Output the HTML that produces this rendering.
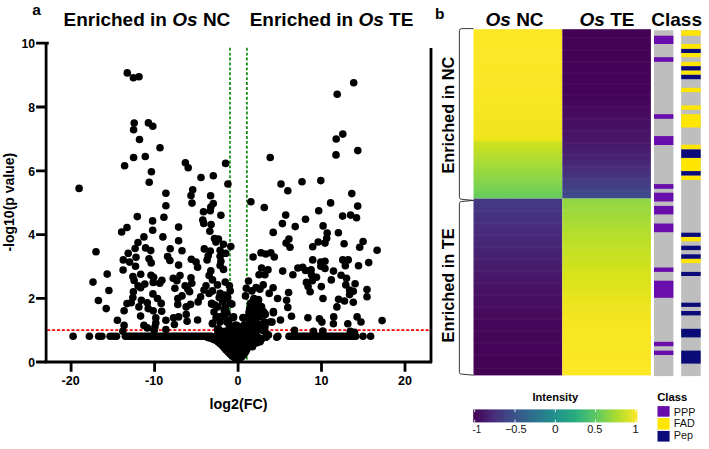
<!DOCTYPE html>
<html><head><meta charset="utf-8"><title>figure</title>
<style>
html,body{margin:0;padding:0;background:#fff;}
body{width:709px;height:449px;overflow:hidden;font-family:"Liberation Sans",sans-serif;}
svg{display:block;font-family:"Liberation Sans",sans-serif;}
.b{font-weight:bold;}
.i{font-style:italic;}
</style></head><body>
<svg width="709" height="449" viewBox="0 0 709 449">
<defs>
<linearGradient id="nct" x1="0" y1="0" x2="0" y2="1">
<stop offset="0" stop-color="#fde725"/><stop offset="0.35" stop-color="#fae622"/><stop offset="0.655" stop-color="#efe51c"/>
<stop offset="0.665" stop-color="#cfe11c"/><stop offset="0.8" stop-color="#a5db36"/><stop offset="0.92" stop-color="#7fd34e"/><stop offset="1" stop-color="#65cb5e"/>
</linearGradient>
<linearGradient id="tet" x1="0" y1="0" x2="0" y2="1">
<stop offset="0" stop-color="#440154"/><stop offset="0.4" stop-color="#45045a"/><stop offset="0.66" stop-color="#481668"/>
<stop offset="0.8" stop-color="#482878"/><stop offset="0.92" stop-color="#433e85"/><stop offset="1" stop-color="#3d4d8a"/>
</linearGradient>
<linearGradient id="ncb" x1="0" y1="0" x2="0" y2="1">
<stop offset="0" stop-color="#443a83"/><stop offset="0.2" stop-color="#472a7a"/><stop offset="0.45" stop-color="#481668"/>
<stop offset="0.7" stop-color="#46075a"/><stop offset="1" stop-color="#440154"/>
</linearGradient>
<linearGradient id="teb" x1="0" y1="0" x2="0" y2="1">
<stop offset="0" stop-color="#8ed645"/><stop offset="0.2" stop-color="#b5de2b"/><stop offset="0.45" stop-color="#dae319"/>
<stop offset="0.7" stop-color="#f6e620"/><stop offset="1" stop-color="#fde725"/>
</linearGradient>
<linearGradient id="vir" x1="0" y1="0" x2="1" y2="0">
<stop offset="0" stop-color="#440154"/><stop offset="0.125" stop-color="#472d7b"/><stop offset="0.25" stop-color="#3b528b"/>
<stop offset="0.375" stop-color="#2c728e"/><stop offset="0.5" stop-color="#21918c"/><stop offset="0.625" stop-color="#28ae80"/>
<stop offset="0.75" stop-color="#5ec962"/><stop offset="0.875" stop-color="#addc30"/><stop offset="1" stop-color="#fde725"/>
</linearGradient>
</defs>
<rect width="709" height="449" fill="#fff"/>

<!-- panel a -->
<text x="32.3" y="14.7" font-size="15.5" class="b">a</text>
<text x="63.5" y="26" font-size="19" class="b">Enriched in <tspan class="i">Os</tspan> NC</text>
<text x="249.7" y="26" font-size="19" class="b">Enriched in <tspan class="i">Os</tspan> TE</text>

<!-- threshold lines -->
<line x1="230" y1="47.8" x2="230" y2="361" stroke="#0f8a0f" stroke-width="1.7" stroke-dasharray="2.9 2"/>
<line x1="246.9" y1="47.8" x2="246.9" y2="361" stroke="#0f8a0f" stroke-width="1.7" stroke-dasharray="2.9 2"/>
<line x1="47.3" y1="330.2" x2="430" y2="330.2" stroke="#ff0000" stroke-width="1.7" stroke-dasharray="3 1.85"/>

<!-- points -->
<g fill="#000"><circle cx="127.3" cy="72.9" r="3.8"/><circle cx="133.4" cy="77.7" r="3.8"/><circle cx="139.0" cy="76.7" r="3.8"/><circle cx="134.2" cy="123.0" r="3.8"/><circle cx="148.4" cy="122.9" r="3.8"/><circle cx="152.8" cy="126.3" r="3.8"/><circle cx="133.6" cy="129.8" r="3.8"/><circle cx="139.5" cy="139.5" r="3.8"/><circle cx="160.0" cy="147.8" r="3.8"/><circle cx="133.6" cy="157.5" r="3.8"/><circle cx="145.3" cy="156.5" r="3.8"/><circle cx="124.6" cy="165.8" r="3.8"/><circle cx="151.4" cy="171.7" r="3.8"/><circle cx="185.4" cy="162.8" r="3.8"/><circle cx="188.2" cy="167.7" r="3.8"/><circle cx="225.6" cy="163.4" r="3.8"/><circle cx="213.3" cy="175.8" r="3.8"/><circle cx="353.7" cy="82.8" r="3.8"/><circle cx="337.2" cy="94.3" r="3.8"/><circle cx="342.8" cy="134.1" r="3.8"/><circle cx="336.2" cy="139.0" r="3.8"/><circle cx="357.8" cy="150.6" r="3.8"/><circle cx="336.0" cy="154.9" r="3.8"/><circle cx="270.2" cy="157.5" r="3.8"/><circle cx="79.1" cy="188.4" r="3.8"/><circle cx="149.2" cy="182.3" r="3.8"/><circle cx="165.9" cy="193.3" r="3.8"/><circle cx="165.9" cy="205.8" r="3.8"/><circle cx="137.3" cy="216.6" r="3.8"/><circle cx="163.9" cy="217.3" r="3.8"/><circle cx="152.6" cy="220.9" r="3.8"/><circle cx="127.0" cy="227.5" r="3.8"/><circle cx="121.6" cy="232.0" r="3.8"/><circle cx="152.7" cy="230.2" r="3.8"/><circle cx="143.9" cy="236.9" r="3.8"/><circle cx="162.9" cy="236.9" r="3.8"/><circle cx="138.0" cy="242.5" r="3.8"/><circle cx="201.0" cy="177.5" r="3.8"/><circle cx="227.9" cy="184.0" r="3.8"/><circle cx="192.7" cy="189.7" r="3.8"/><circle cx="191.0" cy="195.5" r="3.8"/><circle cx="210.6" cy="195.8" r="3.8"/><circle cx="192.0" cy="203.1" r="3.8"/><circle cx="213.3" cy="203.6" r="3.8"/><circle cx="210.8" cy="207.0" r="3.8"/><circle cx="210.3" cy="210.7" r="3.8"/><circle cx="203.5" cy="211.7" r="3.8"/><circle cx="220.9" cy="215.3" r="3.8"/><circle cx="202.8" cy="220.0" r="3.8"/><circle cx="203.7" cy="223.4" r="3.8"/><circle cx="211.1" cy="224.6" r="3.8"/><circle cx="178.6" cy="227.1" r="3.8"/><circle cx="209.8" cy="231.2" r="3.8"/><circle cx="178.6" cy="240.8" r="3.8"/><circle cx="214.5" cy="238.6" r="3.8"/><circle cx="218.4" cy="239.0" r="3.8"/><circle cx="250.9" cy="201.7" r="3.8"/><circle cx="264.3" cy="207.5" r="3.8"/><circle cx="273.2" cy="232.4" r="3.8"/><circle cx="281.0" cy="184.0" r="3.8"/><circle cx="287.8" cy="190.7" r="3.8"/><circle cx="302.0" cy="181.8" r="3.8"/><circle cx="320.8" cy="180.6" r="3.8"/><circle cx="351.8" cy="193.6" r="3.8"/><circle cx="330.6" cy="202.9" r="3.8"/><circle cx="357.7" cy="206.1" r="3.8"/><circle cx="318.7" cy="210.7" r="3.8"/><circle cx="285.7" cy="215.1" r="3.8"/><circle cx="342.6" cy="216.1" r="3.8"/><circle cx="350.6" cy="215.1" r="3.8"/><circle cx="356.5" cy="217.8" r="3.8"/><circle cx="305.5" cy="219.2" r="3.8"/><circle cx="282.4" cy="223.6" r="3.8"/><circle cx="295.2" cy="226.6" r="3.8"/><circle cx="323.1" cy="225.9" r="3.8"/><circle cx="327.2" cy="233.0" r="3.8"/><circle cx="338.4" cy="232.7" r="3.8"/><circle cx="288.9" cy="239.0" r="3.8"/><circle cx="318.2" cy="242.0" r="3.8"/><circle cx="326.7" cy="238.3" r="3.8"/><circle cx="344.1" cy="243.8" r="3.8"/><circle cx="363.1" cy="241.5" r="3.8"/><circle cx="96.0" cy="251.8" r="3.8"/><circle cx="135.1" cy="248.5" r="3.8"/><circle cx="145.6" cy="247.9" r="3.8"/><circle cx="150.7" cy="250.6" r="3.8"/><circle cx="128.2" cy="253.3" r="3.8"/><circle cx="136.0" cy="257.3" r="3.8"/><circle cx="123.3" cy="259.9" r="3.8"/><circle cx="129.6" cy="262.1" r="3.8"/><circle cx="149.0" cy="258.7" r="3.8"/><circle cx="151.2" cy="262.9" r="3.8"/><circle cx="135.5" cy="266.3" r="3.8"/><circle cx="123.1" cy="270.0" r="3.8"/><circle cx="170.2" cy="248.7" r="3.8"/><circle cx="167.6" cy="256.5" r="3.8"/><circle cx="169.9" cy="260.5" r="3.8"/><circle cx="107.2" cy="274.1" r="3.8"/><circle cx="140.7" cy="274.3" r="3.8"/><circle cx="132.9" cy="276.5" r="3.8"/><circle cx="134.1" cy="280.4" r="3.8"/><circle cx="151.0" cy="275.3" r="3.8"/><circle cx="153.6" cy="277.3" r="3.8"/><circle cx="161.9" cy="280.2" r="3.8"/><circle cx="153.2" cy="282.4" r="3.8"/><circle cx="159.7" cy="283.2" r="3.8"/><circle cx="93.0" cy="282.1" r="3.8"/><circle cx="144.8" cy="284.1" r="3.8"/><circle cx="138.0" cy="285.8" r="3.8"/><circle cx="140.6" cy="287.8" r="3.8"/><circle cx="108.9" cy="290.5" r="3.8"/><circle cx="133.4" cy="291.7" r="3.8"/><circle cx="152.9" cy="293.9" r="3.8"/><circle cx="132.9" cy="297.6" r="3.8"/><circle cx="157.5" cy="298.5" r="3.8"/><circle cx="98.4" cy="300.5" r="3.8"/><circle cx="141.4" cy="300.2" r="3.8"/><circle cx="147.3" cy="302.7" r="3.8"/><circle cx="161.2" cy="303.4" r="3.8"/><circle cx="127.0" cy="303.6" r="3.8"/><circle cx="131.2" cy="302.7" r="3.8"/><circle cx="138.9" cy="306.9" r="3.8"/><circle cx="106.2" cy="308.6" r="3.8"/><circle cx="148.2" cy="308.6" r="3.8"/><circle cx="124.1" cy="310.8" r="3.8"/><circle cx="153.2" cy="310.8" r="3.8"/><circle cx="161.7" cy="311.3" r="3.8"/><circle cx="182.0" cy="250.7" r="3.8"/><circle cx="178.6" cy="265.1" r="3.8"/><circle cx="191.3" cy="259.2" r="3.8"/><circle cx="196.1" cy="262.1" r="3.8"/><circle cx="197.6" cy="267.2" r="3.8"/><circle cx="204.3" cy="248.9" r="3.8"/><circle cx="210.3" cy="251.1" r="3.8"/><circle cx="208.2" cy="255.7" r="3.8"/><circle cx="207.1" cy="259.9" r="3.8"/><circle cx="215.9" cy="242.1" r="3.8"/><circle cx="223.5" cy="244.3" r="3.8"/><circle cx="230.8" cy="246.5" r="3.8"/><circle cx="220.1" cy="250.2" r="3.8"/><circle cx="225.7" cy="253.3" r="3.8"/><circle cx="220.1" cy="256.2" r="3.8"/><circle cx="220.9" cy="261.2" r="3.8"/><circle cx="220.1" cy="265.5" r="3.8"/><circle cx="223.5" cy="269.4" r="3.8"/><circle cx="210.8" cy="270.9" r="3.8"/><circle cx="209.1" cy="275.6" r="3.8"/><circle cx="212.5" cy="279.9" r="3.8"/><circle cx="173.2" cy="278.2" r="3.8"/><circle cx="180.0" cy="275.6" r="3.8"/><circle cx="176.9" cy="280.7" r="3.8"/><circle cx="191.0" cy="277.8" r="3.8"/><circle cx="191.8" cy="283.2" r="3.8"/><circle cx="185.1" cy="285.8" r="3.8"/><circle cx="174.9" cy="288.3" r="3.8"/><circle cx="187.9" cy="289.2" r="3.8"/><circle cx="189.6" cy="291.7" r="3.8"/><circle cx="206.0" cy="285.8" r="3.8"/><circle cx="204.0" cy="290.0" r="3.8"/><circle cx="217.5" cy="284.9" r="3.8"/><circle cx="225.2" cy="282.1" r="3.8"/><circle cx="229.4" cy="285.8" r="3.8"/><circle cx="230.2" cy="290.9" r="3.8"/><circle cx="212.5" cy="290.9" r="3.8"/><circle cx="209.1" cy="293.4" r="3.8"/><circle cx="220.1" cy="293.4" r="3.8"/><circle cx="224.3" cy="295.1" r="3.8"/><circle cx="182.0" cy="295.9" r="3.8"/><circle cx="177.8" cy="298.5" r="3.8"/><circle cx="200.6" cy="296.8" r="3.8"/><circle cx="198.1" cy="301.9" r="3.8"/><circle cx="219.2" cy="297.6" r="3.8"/><circle cx="227.7" cy="297.6" r="3.8"/><circle cx="222.6" cy="301.9" r="3.8"/><circle cx="211.6" cy="304.1" r="3.8"/><circle cx="231.9" cy="304.1" r="3.8"/><circle cx="177.8" cy="304.4" r="3.8"/><circle cx="190.5" cy="304.4" r="3.8"/><circle cx="186.2" cy="306.9" r="3.8"/><circle cx="217.5" cy="306.9" r="3.8"/><circle cx="225.2" cy="307.8" r="3.8"/><circle cx="253.1" cy="257.0" r="3.8"/><circle cx="261.0" cy="252.8" r="3.8"/><circle cx="265.8" cy="254.0" r="3.8"/><circle cx="270.9" cy="252.8" r="3.8"/><circle cx="274.3" cy="257.0" r="3.8"/><circle cx="261.6" cy="268.0" r="3.8"/><circle cx="268.0" cy="269.7" r="3.8"/><circle cx="259.0" cy="274.8" r="3.8"/><circle cx="264.9" cy="274.8" r="3.8"/><circle cx="248.5" cy="281.0" r="3.8"/><circle cx="263.2" cy="284.9" r="3.8"/><circle cx="246.3" cy="288.3" r="3.8"/><circle cx="256.1" cy="287.5" r="3.8"/><circle cx="259.9" cy="289.2" r="3.8"/><circle cx="273.1" cy="287.8" r="3.8"/><circle cx="251.9" cy="290.9" r="3.8"/><circle cx="269.2" cy="293.4" r="3.8"/><circle cx="245.5" cy="295.9" r="3.8"/><circle cx="253.9" cy="298.5" r="3.8"/><circle cx="257.3" cy="301.9" r="3.8"/><circle cx="277.6" cy="298.5" r="3.8"/><circle cx="253.1" cy="304.4" r="3.8"/><circle cx="259.9" cy="306.1" r="3.8"/><circle cx="251.4" cy="308.6" r="3.8"/><circle cx="261.6" cy="309.5" r="3.8"/><circle cx="286.1" cy="243.1" r="3.8"/><circle cx="290.0" cy="247.2" r="3.8"/><circle cx="325.0" cy="243.1" r="3.8"/><circle cx="312.7" cy="246.8" r="3.8"/><circle cx="359.7" cy="247.2" r="3.8"/><circle cx="377.1" cy="250.2" r="3.8"/><circle cx="312.7" cy="259.9" r="3.8"/><circle cx="320.8" cy="262.1" r="3.8"/><circle cx="325.0" cy="261.2" r="3.8"/><circle cx="320.8" cy="266.3" r="3.8"/><circle cx="325.0" cy="268.5" r="3.8"/><circle cx="342.8" cy="259.9" r="3.8"/><circle cx="348.2" cy="259.9" r="3.8"/><circle cx="345.3" cy="265.8" r="3.8"/><circle cx="358.5" cy="265.8" r="3.8"/><circle cx="368.7" cy="262.6" r="3.8"/><circle cx="282.7" cy="271.1" r="3.8"/><circle cx="292.9" cy="274.8" r="3.8"/><circle cx="297.9" cy="268.0" r="3.8"/><circle cx="302.7" cy="267.2" r="3.8"/><circle cx="305.5" cy="270.5" r="3.8"/><circle cx="311.1" cy="269.7" r="3.8"/><circle cx="311.5" cy="274.8" r="3.8"/><circle cx="316.5" cy="277.3" r="3.8"/><circle cx="312.3" cy="280.7" r="3.8"/><circle cx="306.4" cy="282.4" r="3.8"/><circle cx="308.1" cy="286.6" r="3.8"/><circle cx="310.1" cy="291.7" r="3.8"/><circle cx="333.5" cy="271.1" r="3.8"/><circle cx="331.3" cy="279.9" r="3.8"/><circle cx="341.1" cy="275.3" r="3.8"/><circle cx="346.5" cy="278.2" r="3.8"/><circle cx="345.8" cy="284.9" r="3.8"/><circle cx="355.1" cy="283.7" r="3.8"/><circle cx="321.3" cy="286.6" r="3.8"/><circle cx="349.6" cy="290.0" r="3.8"/><circle cx="353.3" cy="291.2" r="3.8"/><circle cx="349.6" cy="294.6" r="3.8"/><circle cx="367.0" cy="289.5" r="3.8"/><circle cx="367.0" cy="296.8" r="3.8"/><circle cx="288.6" cy="292.5" r="3.8"/><circle cx="286.6" cy="300.2" r="3.8"/><circle cx="287.8" cy="307.4" r="3.8"/><circle cx="323.0" cy="298.5" r="3.8"/><circle cx="338.6" cy="299.3" r="3.8"/><circle cx="344.5" cy="301.0" r="3.8"/><circle cx="353.3" cy="302.2" r="3.8"/><circle cx="336.9" cy="306.9" r="3.8"/><circle cx="273.4" cy="311.5" r="3.8"/><circle cx="333.7" cy="316.9" r="3.8"/><circle cx="333.4" cy="323.7" r="3.8"/><circle cx="347.8" cy="323.7" r="3.8"/><circle cx="357.1" cy="316.9" r="3.8"/><circle cx="361.0" cy="322.0" r="3.8"/><circle cx="382.1" cy="320.6" r="3.8"/><circle cx="350.3" cy="331.3" r="3.8"/><circle cx="354.5" cy="332.2" r="3.8"/><circle cx="291.5" cy="316.2" r="3.8"/><circle cx="307.9" cy="317.8" r="3.8"/><circle cx="319.4" cy="318.7" r="3.8"/><circle cx="321.9" cy="322.1" r="3.8"/><circle cx="280.5" cy="320.0" r="3.8"/><circle cx="272.0" cy="322.1" r="3.8"/><circle cx="264.4" cy="322.1" r="3.8"/><circle cx="265.2" cy="314.5" r="3.8"/><circle cx="264.4" cy="326.3" r="3.8"/><circle cx="294.5" cy="330.2" r="3.8"/><circle cx="313.5" cy="331.4" r="3.8"/><circle cx="322.8" cy="331.0" r="3.8"/><circle cx="117.4" cy="320.3" r="3.8"/><circle cx="124.1" cy="325.4" r="3.8"/><circle cx="122.8" cy="331.3" r="3.8"/><circle cx="140.6" cy="316.1" r="3.8"/><circle cx="155.8" cy="317.8" r="3.8"/><circle cx="165.9" cy="320.3" r="3.8"/><circle cx="155.8" cy="322.9" r="3.8"/><circle cx="143.9" cy="325.4" r="3.8"/><circle cx="154.9" cy="327.1" r="3.8"/><circle cx="147.3" cy="327.9" r="3.8"/><circle cx="165.9" cy="329.6" r="3.8"/><circle cx="154.1" cy="330.5" r="3.8"/><circle cx="173.5" cy="317.8" r="3.8"/><circle cx="178.6" cy="316.9" r="3.8"/><circle cx="186.2" cy="314.4" r="3.8"/><circle cx="187.1" cy="321.2" r="3.8"/><circle cx="197.6" cy="320.0" r="3.8"/><circle cx="174.4" cy="324.5" r="3.8"/><circle cx="212.5" cy="323.7" r="3.8"/><circle cx="218.4" cy="328.8" r="3.8"/><circle cx="219.2" cy="316.9" r="3.8"/><circle cx="224.3" cy="310.2" r="3.8"/><circle cx="223.5" cy="315.2" r="3.8"/><circle cx="226.9" cy="322.0" r="3.8"/><circle cx="233.6" cy="316.9" r="3.8"/><circle cx="234.5" cy="327.1" r="3.8"/><circle cx="242.9" cy="317.8" r="3.8"/><circle cx="241.2" cy="328.8" r="3.8"/><circle cx="252.2" cy="305.1" r="3.8"/><circle cx="256.5" cy="308.5" r="3.8"/><circle cx="251.4" cy="311.8" r="3.8"/><circle cx="254.8" cy="316.9" r="3.8"/><circle cx="249.7" cy="320.3" r="3.8"/><circle cx="253.1" cy="325.4" r="3.8"/><circle cx="256.5" cy="330.5" r="3.8"/><circle cx="248.0" cy="328.8" r="3.8"/><circle cx="252.2" cy="333.9" r="3.8"/><circle cx="259.9" cy="311.8" r="3.8"/><circle cx="261.6" cy="306.8" r="3.8"/><circle cx="264.9" cy="313.5" r="3.8"/><circle cx="264.1" cy="322.0" r="3.8"/><circle cx="264.9" cy="327.1" r="3.8"/><circle cx="266.6" cy="333.9" r="3.8"/><circle cx="261.6" cy="338.9" r="3.8"/><circle cx="258.2" cy="341.5" r="3.8"/><circle cx="252.2" cy="345.7" r="3.8"/><circle cx="276.8" cy="337.2" r="3.8"/><circle cx="273.4" cy="312.7" r="3.8"/><circle cx="270.0" cy="322.0" r="3.8"/><circle cx="253.4" cy="301.8" r="3.8"/><circle cx="258.5" cy="305.2" r="3.8"/><circle cx="255.1" cy="320.4" r="3.8"/><circle cx="255.1" cy="330.5" r="3.8"/><circle cx="258.5" cy="340.7" r="3.8"/><circle cx="266.1" cy="337.3" r="3.8"/><circle cx="251.7" cy="345.8" r="3.8"/><circle cx="73.1" cy="336.3" r="3.8"/><circle cx="89.4" cy="336.3" r="3.8"/><circle cx="98.7" cy="336.3" r="3.8"/><circle cx="101.9" cy="336.3" r="3.8"/><circle cx="110.1" cy="336.3" r="3.8"/><circle cx="113.3" cy="336.3" r="3.8"/><circle cx="116.5" cy="336.3" r="3.8"/><circle cx="125.4" cy="336.3" r="3.8"/><circle cx="127.6" cy="336.3" r="3.8"/><circle cx="129.8" cy="336.3" r="3.8"/><circle cx="132.0" cy="336.3" r="3.8"/><circle cx="134.2" cy="336.3" r="3.8"/><circle cx="136.4" cy="336.3" r="3.8"/><circle cx="138.6" cy="336.3" r="3.8"/><circle cx="140.8" cy="336.3" r="3.8"/><circle cx="143.0" cy="336.3" r="3.8"/><circle cx="145.2" cy="336.3" r="3.8"/><circle cx="147.4" cy="336.3" r="3.8"/><circle cx="149.6" cy="336.3" r="3.8"/><circle cx="151.8" cy="336.3" r="3.8"/><circle cx="154.0" cy="336.3" r="3.8"/><circle cx="156.2" cy="336.3" r="3.8"/><circle cx="158.4" cy="336.3" r="3.8"/><circle cx="160.6" cy="336.3" r="3.8"/><circle cx="162.8" cy="336.3" r="3.8"/><circle cx="165.0" cy="336.3" r="3.8"/><circle cx="167.2" cy="336.3" r="3.8"/><circle cx="169.4" cy="336.3" r="3.8"/><circle cx="171.6" cy="336.3" r="3.8"/><circle cx="173.8" cy="336.3" r="3.8"/><circle cx="176.0" cy="336.3" r="3.8"/><circle cx="178.2" cy="336.3" r="3.8"/><circle cx="180.4" cy="336.3" r="3.8"/><circle cx="182.6" cy="336.3" r="3.8"/><circle cx="184.8" cy="336.3" r="3.8"/><circle cx="187.0" cy="336.3" r="3.8"/><circle cx="189.2" cy="336.3" r="3.8"/><circle cx="191.4" cy="336.3" r="3.8"/><circle cx="193.6" cy="336.3" r="3.8"/><circle cx="195.8" cy="336.3" r="3.8"/><circle cx="198.0" cy="336.3" r="3.8"/><circle cx="200.2" cy="336.3" r="3.8"/><circle cx="202.4" cy="336.3" r="3.8"/><circle cx="204.6" cy="336.3" r="3.8"/><circle cx="206.8" cy="336.3" r="3.8"/><circle cx="209.0" cy="336.3" r="3.8"/><circle cx="211.2" cy="336.3" r="3.8"/><circle cx="207.8" cy="337.4" r="3.8"/><circle cx="209.9" cy="338.0" r="3.8"/><circle cx="212.0" cy="338.6" r="3.8"/><circle cx="213.6" cy="339.3" r="3.8"/><circle cx="215.1" cy="339.9" r="3.8"/><circle cx="216.7" cy="340.6" r="3.8"/><circle cx="218.0" cy="341.7" r="3.8"/><circle cx="219.3" cy="342.8" r="3.8"/><circle cx="220.7" cy="343.9" r="3.8"/><circle cx="222.0" cy="345.0" r="3.8"/><circle cx="223.2" cy="346.5" r="3.8"/><circle cx="224.5" cy="348.0" r="3.8"/><circle cx="225.7" cy="349.5" r="3.8"/><circle cx="227.0" cy="350.8" r="3.8"/><circle cx="228.3" cy="352.1" r="3.8"/><circle cx="229.7" cy="353.5" r="3.8"/><circle cx="231.0" cy="354.8" r="3.8"/><circle cx="232.3" cy="355.8" r="3.8"/><circle cx="233.7" cy="356.8" r="3.8"/><circle cx="235.0" cy="357.8" r="3.8"/><circle cx="236.6" cy="358.6" r="3.8"/><circle cx="238.1" cy="359.3" r="3.8"/><circle cx="238.1" cy="359.3" r="3.8"/><circle cx="239.8" cy="358.1" r="3.8"/><circle cx="241.5" cy="357.0" r="3.8"/><circle cx="242.8" cy="355.5" r="3.8"/><circle cx="244.0" cy="354.0" r="3.8"/><circle cx="245.2" cy="352.2" r="3.8"/><circle cx="246.3" cy="350.5" r="3.8"/><circle cx="247.1" cy="348.5" r="3.8"/><circle cx="247.8" cy="346.5" r="3.8"/><circle cx="248.6" cy="344.5" r="3.8"/><circle cx="249.3" cy="342.5" r="3.8"/><circle cx="227.4" cy="335.4" r="3.8"/><circle cx="237.8" cy="333.1" r="3.8"/><circle cx="234.1" cy="341.6" r="3.8"/><circle cx="219.2" cy="333.6" r="3.8"/><circle cx="221.0" cy="337.5" r="3.8"/><circle cx="237.1" cy="358.5" r="3.8"/><circle cx="235.5" cy="342.5" r="3.8"/><circle cx="248.2" cy="332.4" r="3.8"/><circle cx="244.5" cy="339.4" r="3.8"/><circle cx="221.6" cy="334.4" r="3.8"/><circle cx="237.4" cy="341.8" r="3.8"/><circle cx="234.5" cy="332.8" r="3.8"/><circle cx="218.9" cy="337.0" r="3.8"/><circle cx="238.8" cy="343.4" r="3.8"/><circle cx="227.1" cy="348.0" r="3.8"/><circle cx="231.5" cy="339.7" r="3.8"/><circle cx="242.4" cy="351.3" r="3.8"/><circle cx="224.8" cy="347.7" r="3.8"/><circle cx="233.8" cy="356.4" r="3.8"/><circle cx="240.3" cy="339.4" r="3.8"/><circle cx="248.4" cy="334.4" r="3.8"/><circle cx="230.4" cy="353.0" r="3.8"/><circle cx="241.5" cy="347.6" r="3.8"/><circle cx="245.0" cy="340.1" r="3.8"/><circle cx="239.2" cy="348.2" r="3.8"/><circle cx="235.6" cy="344.2" r="3.8"/><circle cx="232.2" cy="350.3" r="3.8"/><circle cx="243.3" cy="339.3" r="3.8"/><circle cx="229.3" cy="350.4" r="3.8"/><circle cx="222.4" cy="334.4" r="3.8"/><circle cx="221.1" cy="338.2" r="3.8"/><circle cx="234.6" cy="356.6" r="3.8"/><circle cx="225.9" cy="343.0" r="3.8"/><circle cx="247.6" cy="335.4" r="3.8"/><circle cx="222.6" cy="337.7" r="3.8"/><circle cx="224.5" cy="345.1" r="3.8"/><circle cx="235.9" cy="338.6" r="3.8"/><circle cx="228.8" cy="347.4" r="3.8"/><circle cx="233.5" cy="348.9" r="3.8"/><circle cx="238.6" cy="332.6" r="3.8"/><circle cx="229.6" cy="342.6" r="3.8"/><circle cx="219.0" cy="333.0" r="3.8"/><circle cx="223.7" cy="335.7" r="3.8"/><circle cx="227.9" cy="332.5" r="3.8"/><circle cx="217.0" cy="335.4" r="3.8"/><circle cx="220.2" cy="341.5" r="3.8"/><circle cx="236.7" cy="335.3" r="3.8"/><circle cx="225.1" cy="341.1" r="3.8"/><circle cx="228.7" cy="334.6" r="3.8"/><circle cx="231.9" cy="345.0" r="3.8"/><circle cx="219.7" cy="334.0" r="3.8"/><circle cx="228.0" cy="338.7" r="3.8"/><circle cx="243.5" cy="335.7" r="3.8"/><circle cx="233.9" cy="335.3" r="3.8"/><circle cx="234.4" cy="331.8" r="3.8"/><circle cx="244.6" cy="351.2" r="3.8"/><circle cx="225.4" cy="341.6" r="3.8"/><circle cx="234.0" cy="353.6" r="3.8"/><circle cx="227.5" cy="337.5" r="3.8"/><circle cx="243.2" cy="352.5" r="3.8"/><circle cx="224.3" cy="346.0" r="3.8"/><circle cx="228.4" cy="331.8" r="3.8"/><circle cx="217.9" cy="339.1" r="3.8"/><circle cx="247.6" cy="344.0" r="3.8"/><circle cx="247.6" cy="341.6" r="3.8"/><circle cx="224.1" cy="337.6" r="3.8"/><circle cx="223.3" cy="336.9" r="3.8"/><circle cx="237.0" cy="357.1" r="3.8"/><circle cx="243.9" cy="344.9" r="3.8"/><circle cx="237.9" cy="354.2" r="3.8"/><circle cx="241.0" cy="344.9" r="3.8"/><circle cx="248.1" cy="342.5" r="3.8"/><circle cx="240.2" cy="335.9" r="3.8"/><circle cx="221.1" cy="335.4" r="3.8"/><circle cx="228.2" cy="346.9" r="3.8"/><circle cx="221.2" cy="331.4" r="3.8"/><circle cx="243.4" cy="337.1" r="3.8"/><circle cx="225.1" cy="339.5" r="3.8"/><circle cx="225.3" cy="343.2" r="3.8"/><circle cx="228.3" cy="344.3" r="3.8"/><circle cx="235.7" cy="357.2" r="3.8"/><circle cx="233.1" cy="346.4" r="3.8"/><circle cx="233.8" cy="331.5" r="3.8"/><circle cx="231.1" cy="336.3" r="3.8"/><circle cx="222.5" cy="344.7" r="3.8"/><circle cx="240.2" cy="347.1" r="3.8"/><circle cx="227.4" cy="346.0" r="3.8"/><circle cx="234.8" cy="353.7" r="3.8"/><circle cx="225.0" cy="339.0" r="3.8"/><circle cx="241.7" cy="345.7" r="3.8"/><circle cx="235.0" cy="353.0" r="3.8"/><circle cx="246.2" cy="343.9" r="3.8"/><circle cx="236.6" cy="345.7" r="3.8"/><circle cx="233.4" cy="351.1" r="3.8"/><circle cx="231.5" cy="346.5" r="3.8"/><circle cx="239.4" cy="356.4" r="3.8"/><circle cx="247.1" cy="338.5" r="3.8"/><circle cx="243.9" cy="335.0" r="3.8"/><circle cx="220.9" cy="343.8" r="3.8"/><circle cx="219.3" cy="338.0" r="3.8"/><circle cx="238.1" cy="335.1" r="3.8"/><circle cx="229.7" cy="345.1" r="3.8"/><circle cx="222.2" cy="343.5" r="3.8"/><circle cx="233.5" cy="340.8" r="3.8"/><circle cx="223.3" cy="340.2" r="3.8"/><circle cx="240.1" cy="331.6" r="3.8"/><circle cx="234.7" cy="343.8" r="3.8"/><circle cx="217.6" cy="340.6" r="3.8"/><circle cx="237.0" cy="345.9" r="3.8"/><circle cx="220.4" cy="338.7" r="3.8"/><circle cx="225.7" cy="334.8" r="3.8"/><circle cx="243.2" cy="338.5" r="3.8"/><circle cx="235.3" cy="351.3" r="3.8"/><circle cx="219.9" cy="332.7" r="3.8"/><circle cx="239.0" cy="343.3" r="3.8"/><circle cx="237.3" cy="354.2" r="3.8"/><circle cx="231.5" cy="340.8" r="3.8"/><circle cx="225.6" cy="334.7" r="3.8"/><circle cx="233.9" cy="337.9" r="3.8"/><circle cx="220.5" cy="335.7" r="3.8"/><circle cx="218.6" cy="336.9" r="3.8"/><circle cx="227.0" cy="339.8" r="3.8"/><circle cx="241.3" cy="339.4" r="3.8"/><circle cx="233.0" cy="336.2" r="3.8"/><circle cx="228.1" cy="331.5" r="3.8"/><circle cx="225.0" cy="331.4" r="3.8"/><circle cx="240.5" cy="347.0" r="3.8"/><circle cx="223.1" cy="344.8" r="3.8"/><circle cx="246.9" cy="334.1" r="3.8"/><circle cx="243.2" cy="343.5" r="3.8"/><circle cx="232.8" cy="355.2" r="3.8"/><circle cx="229.6" cy="345.7" r="3.8"/><circle cx="239.6" cy="349.4" r="3.8"/><circle cx="230.0" cy="341.1" r="3.8"/><circle cx="218.7" cy="334.8" r="3.8"/><circle cx="225.2" cy="335.7" r="3.8"/><circle cx="244.9" cy="350.4" r="3.8"/><circle cx="226.0" cy="338.0" r="3.8"/><circle cx="226.4" cy="344.3" r="3.8"/><circle cx="222.0" cy="343.9" r="3.8"/><circle cx="226.9" cy="341.3" r="3.8"/><circle cx="232.2" cy="345.6" r="3.8"/><circle cx="223.4" cy="345.6" r="3.8"/><circle cx="217.2" cy="338.7" r="3.8"/><circle cx="219.9" cy="342.6" r="3.8"/><circle cx="218.3" cy="331.7" r="3.8"/><circle cx="226.7" cy="337.8" r="3.8"/><circle cx="235.7" cy="346.3" r="3.8"/><circle cx="241.0" cy="350.1" r="3.8"/><circle cx="239.9" cy="356.5" r="3.8"/><circle cx="229.5" cy="340.5" r="3.8"/><circle cx="248.5" cy="335.3" r="3.8"/><circle cx="240.2" cy="349.7" r="3.8"/><circle cx="245.5" cy="349.2" r="3.8"/><circle cx="240.5" cy="354.6" r="3.8"/><circle cx="233.1" cy="355.2" r="3.8"/><circle cx="242.7" cy="355.0" r="3.8"/><circle cx="235.7" cy="356.9" r="3.8"/><circle cx="238.9" cy="351.1" r="3.8"/><circle cx="224.4" cy="331.9" r="3.8"/><circle cx="221.3" cy="341.5" r="3.8"/><circle cx="234.9" cy="349.2" r="3.8"/><circle cx="237.0" cy="350.7" r="3.8"/><circle cx="232.7" cy="331.1" r="3.8"/><circle cx="242.5" cy="352.7" r="3.8"/><circle cx="233.1" cy="346.5" r="3.8"/><circle cx="238.1" cy="332.9" r="3.8"/><circle cx="240.6" cy="338.3" r="3.8"/><circle cx="219.4" cy="338.7" r="3.8"/><circle cx="240.3" cy="337.0" r="3.8"/><circle cx="232.8" cy="342.1" r="3.8"/><circle cx="232.3" cy="350.8" r="3.8"/><circle cx="241.5" cy="348.9" r="3.8"/><circle cx="237.6" cy="333.2" r="3.8"/><circle cx="221.7" cy="338.4" r="3.8"/><circle cx="240.8" cy="339.8" r="3.8"/><circle cx="235.2" cy="331.4" r="3.8"/><circle cx="218.9" cy="338.8" r="3.8"/><circle cx="238.5" cy="351.1" r="3.8"/><circle cx="238.6" cy="339.4" r="3.8"/><circle cx="233.5" cy="344.5" r="3.8"/><circle cx="231.9" cy="334.4" r="3.8"/><circle cx="245.6" cy="336.8" r="3.8"/><circle cx="231.4" cy="338.8" r="3.8"/><circle cx="247.5" cy="334.8" r="3.8"/><circle cx="243.2" cy="345.8" r="3.8"/><circle cx="245.4" cy="351.4" r="3.8"/><circle cx="232.6" cy="331.7" r="3.8"/><circle cx="231.4" cy="339.8" r="3.8"/><circle cx="221.5" cy="341.0" r="3.8"/><circle cx="243.9" cy="334.5" r="3.8"/><circle cx="245.9" cy="339.4" r="3.8"/><circle cx="228.9" cy="342.4" r="3.8"/><circle cx="228.5" cy="343.4" r="3.8"/><circle cx="225.8" cy="332.4" r="3.8"/><circle cx="225.0" cy="338.7" r="3.8"/><circle cx="233.4" cy="336.5" r="3.8"/><circle cx="237.2" cy="357.5" r="3.8"/><circle cx="247.1" cy="346.9" r="3.8"/><circle cx="240.0" cy="332.4" r="3.8"/><circle cx="239.6" cy="327.2" r="3.8"/><circle cx="240.1" cy="328.5" r="3.8"/><circle cx="228.9" cy="324.3" r="3.8"/><circle cx="244.2" cy="324.9" r="3.8"/><circle cx="233.3" cy="326.4" r="3.8"/><circle cx="229.1" cy="329.2" r="3.8"/><circle cx="245.4" cy="325.8" r="3.8"/><circle cx="237.7" cy="326.1" r="3.8"/><circle cx="252.3" cy="324.2" r="3.8"/><circle cx="251.4" cy="305.9" r="3.8"/><circle cx="259.5" cy="307.8" r="3.8"/><circle cx="250.4" cy="321.4" r="3.8"/><circle cx="259.2" cy="340.6" r="3.8"/><circle cx="249.7" cy="319.1" r="3.8"/><circle cx="250.4" cy="307.0" r="3.8"/><circle cx="249.6" cy="314.1" r="3.8"/><circle cx="252.1" cy="309.2" r="3.8"/><circle cx="258.5" cy="324.8" r="3.8"/><circle cx="251.8" cy="333.2" r="3.8"/><circle cx="254.5" cy="317.5" r="3.8"/><circle cx="252.4" cy="315.7" r="3.8"/><circle cx="253.1" cy="300.9" r="3.8"/><circle cx="246.8" cy="343.5" r="3.8"/><circle cx="255.5" cy="321.7" r="3.8"/><circle cx="248.6" cy="338.6" r="3.8"/><circle cx="251.8" cy="310.7" r="3.8"/><circle cx="253.6" cy="316.8" r="3.8"/><circle cx="257.1" cy="342.8" r="3.8"/><circle cx="245.9" cy="339.0" r="3.8"/><circle cx="257.9" cy="299.5" r="3.8"/><circle cx="252.0" cy="340.1" r="3.8"/><circle cx="247.2" cy="325.6" r="3.8"/><circle cx="259.4" cy="316.4" r="3.8"/><circle cx="257.5" cy="336.8" r="3.8"/><circle cx="248.5" cy="343.7" r="3.8"/><circle cx="251.6" cy="303.1" r="3.8"/><circle cx="256.1" cy="322.6" r="3.8"/><circle cx="255.3" cy="342.3" r="3.8"/><circle cx="256.7" cy="328.4" r="3.8"/><circle cx="254.7" cy="319.5" r="3.8"/><circle cx="258.6" cy="299.9" r="3.8"/><circle cx="259.7" cy="308.9" r="3.8"/><circle cx="250.8" cy="328.3" r="3.8"/><circle cx="252.5" cy="304.0" r="3.8"/><circle cx="255.9" cy="327.9" r="3.8"/><circle cx="250.6" cy="303.3" r="3.8"/><circle cx="254.8" cy="322.6" r="3.8"/><circle cx="251.0" cy="316.2" r="3.8"/><circle cx="247.2" cy="326.2" r="3.8"/><circle cx="254.2" cy="312.2" r="3.8"/><circle cx="254.2" cy="343.1" r="3.8"/><circle cx="252.1" cy="339.5" r="3.8"/><circle cx="252.0" cy="309.0" r="3.8"/><circle cx="255.0" cy="343.1" r="3.8"/><circle cx="249.0" cy="312.4" r="3.8"/><circle cx="256.0" cy="321.4" r="3.8"/><circle cx="251.2" cy="317.7" r="3.8"/><circle cx="258.8" cy="329.4" r="3.8"/><circle cx="249.6" cy="308.7" r="3.8"/><circle cx="253.5" cy="313.9" r="3.8"/><circle cx="249.2" cy="330.1" r="3.8"/><circle cx="256.0" cy="335.5" r="3.8"/><circle cx="250.2" cy="321.7" r="3.8"/><circle cx="249.4" cy="343.6" r="3.8"/><circle cx="249.0" cy="336.5" r="3.8"/><circle cx="257.9" cy="308.4" r="3.8"/><circle cx="259.9" cy="311.9" r="3.8"/><circle cx="250.0" cy="321.3" r="3.8"/><circle cx="211.7" cy="303.4" r="3.8"/><circle cx="212.5" cy="323.4" r="3.8"/><circle cx="217.5" cy="329.2" r="3.8"/><circle cx="221.7" cy="316.7" r="3.8"/><circle cx="223.4" cy="300.0" r="3.8"/><circle cx="225.0" cy="308.4" r="3.8"/><circle cx="230.0" cy="303.4" r="3.8"/><circle cx="233.4" cy="317.6" r="3.8"/><circle cx="243.4" cy="317.6" r="3.8"/><circle cx="235.9" cy="325.1" r="3.8"/><circle cx="263.5" cy="311.7" r="3.8"/><circle cx="264.3" cy="322.6" r="3.8"/><circle cx="263.5" cy="330.9" r="3.8"/><circle cx="268.5" cy="335.1" r="3.8"/><circle cx="260.1" cy="341.8" r="3.8"/><circle cx="252.6" cy="346.8" r="3.8"/><circle cx="214" cy="312" r="3.8"/><circle cx="216" cy="318" r="3.8"/><circle cx="220" cy="322" r="3.8"/><circle cx="227" cy="313" r="3.8"/><circle cx="229" cy="320" r="3.8"/><circle cx="215" cy="305" r="3.8"/><circle cx="277.9" cy="336.3" r="3.8"/><circle cx="289.0" cy="336.3" r="3.8"/><circle cx="291.3" cy="336.3" r="3.8"/><circle cx="293.6" cy="336.3" r="3.8"/><circle cx="295.9" cy="336.3" r="3.8"/><circle cx="298.2" cy="336.3" r="3.8"/><circle cx="300.5" cy="336.3" r="3.8"/><circle cx="302.8" cy="336.3" r="3.8"/><circle cx="305.1" cy="336.3" r="3.8"/><circle cx="307.4" cy="336.3" r="3.8"/><circle cx="309.7" cy="336.3" r="3.8"/><circle cx="312.0" cy="336.3" r="3.8"/><circle cx="314.3" cy="336.3" r="3.8"/><circle cx="316.6" cy="336.3" r="3.8"/><circle cx="318.9" cy="336.3" r="3.8"/><circle cx="321.2" cy="336.3" r="3.8"/><circle cx="323.5" cy="336.3" r="3.8"/><circle cx="325.8" cy="336.3" r="3.8"/><circle cx="328.1" cy="336.3" r="3.8"/><circle cx="330.4" cy="336.3" r="3.8"/><circle cx="332.7" cy="336.3" r="3.8"/><circle cx="335.0" cy="336.3" r="3.8"/><circle cx="337.3" cy="336.3" r="3.8"/><circle cx="339.6" cy="336.3" r="3.8"/><circle cx="341.9" cy="336.3" r="3.8"/><circle cx="344.2" cy="336.3" r="3.8"/><circle cx="346.5" cy="336.3" r="3.8"/><circle cx="348.8" cy="336.3" r="3.8"/><circle cx="351.1" cy="336.3" r="3.8"/><circle cx="353.4" cy="336.3" r="3.8"/><circle cx="355.7" cy="336.3" r="3.8"/><circle cx="363.0" cy="336.3" r="3.8"/><circle cx="370.6" cy="336.3" r="3.8"/></g>

<!-- axes -->
<g stroke="#000" stroke-width="2.8" fill="none">
<path d="M46.1 41.9V362.5"/>
<path d="M44.8 362H432.1"/>
<path d="M431 48V362.5"/>
<path d="M36.1 43.2H48.8M36.1 107H46.1M36.1 170.8H46.1M36.1 234.6H46.1M36.1 298.4H46.1M36.1 362H46.1"/>
<path d="M71.1 362V371.8M154.6 362V371.8M238.1 362V371.8M321.5 362V371.8M405 362V371.8"/>
</g>
<g font-size="12.2" class="b" text-anchor="end">
<text x="35.1" y="48">10</text><text x="35.1" y="111.8">8</text><text x="35.1" y="175.6">6</text>
<text x="35.1" y="239.4">4</text><text x="35.1" y="303.2">2</text><text x="35.1" y="366.8">0</text>
</g>
<g font-size="12.5" class="b" text-anchor="middle">
<text x="70.6" y="384.6">-20</text><text x="154.1" y="384.6">-10</text><text x="238.1" y="384.6">0</text>
<text x="321.5" y="384.6">10</text><text x="405" y="384.6">20</text>
</g>
<text x="238.6" y="409.3" font-size="14.3" class="b" text-anchor="middle">log2(FC)</text>
<text transform="translate(14.2,202.2) rotate(-90)" font-size="14" class="b" text-anchor="middle">-log10(p value)</text>

<!-- panel b -->
<text x="435.1" y="19.1" font-size="15.5" class="b">b</text>
<text x="485.5" y="26.2" font-size="19" class="b"><tspan class="i">Os</tspan> NC</text>
<text x="579.5" y="26.2" font-size="19" class="b"><tspan class="i">Os</tspan> TE</text>
<text x="651.3" y="26.2" font-size="19" class="b">Class</text>
<text transform="translate(453.6,115.2) rotate(-90)" font-size="16.3" class="b" text-anchor="middle">Enriched in NC</text>
<text transform="translate(453.6,285.4) rotate(-90)" font-size="16.3" class="b" text-anchor="middle">Enriched in TE</text>

<!-- brackets -->
<g stroke="#222" stroke-width="0.9" fill="none">
<path d="M473.5 28.6 H461.6 Q459.4 28.6 459.4 30.8 V197.2 Q459.4 199 461.4 199.3 L473.6 200.4"/>
<path d="M473.6 200.4 L461.4 201.5 Q459.4 201.8 459.4 203.6 V372.4 Q459.4 373.9 461.2 374.05 L473.6 375.2"/>
</g>

<!-- heatmap -->
<rect x="473.5" y="29.2" width="88.8" height="169.4" fill="url(#nct)"/>
<rect x="562.3" y="29.2" width="88.6" height="169.4" fill="url(#tet)"/>
<rect x="473.5" y="198.6" width="88.8" height="176.8" fill="url(#ncb)"/>
<rect x="562.3" y="198.6" width="88.6" height="176.8" fill="url(#teb)"/>

<g stroke="#fff" stroke-opacity="0.07" stroke-width="0.8"><path d="M473.5 37.4H650.9"/><path d="M473.5 50.0H650.9"/><path d="M473.5 62.0H650.9"/><path d="M473.5 73.0H650.9"/><path d="M473.5 84.0H650.9"/><path d="M473.5 95.0H650.9"/><path d="M473.5 107.0H650.9"/><path d="M473.5 119.0H650.9"/><path d="M473.5 131.0H650.9"/><path d="M473.5 143.0H650.9"/><path d="M473.5 155.0H650.9"/><path d="M473.5 167.0H650.9"/><path d="M473.5 179.0H650.9"/><path d="M473.5 191.0H650.9"/><path d="M473.5 211.0H650.9"/><path d="M473.5 223.0H650.9"/><path d="M473.5 235.0H650.9"/><path d="M473.5 247.0H650.9"/><path d="M473.5 259.0H650.9"/><path d="M473.5 271.0H650.9"/><path d="M473.5 283.0H650.9"/><path d="M473.5 295.0H650.9"/><path d="M473.5 307.0H650.9"/><path d="M473.5 319.0H650.9"/><path d="M473.5 331.0H650.9"/><path d="M473.5 343.0H650.9"/><path d="M473.5 354.9H650.9"/><path d="M473.5 368.3H650.9"/></g>
<!-- class annotation -->
<rect x="654.0" y="30.3" width="19.4" height="345.8" fill="#bebebe"/><rect x="654.0" y="35.7" width="19.4" height="8.3" fill="#6a0dad"/><rect x="654.0" y="57.2" width="19.4" height="4.6" fill="#6a0dad"/><rect x="654.0" y="114.2" width="19.4" height="4.6" fill="#6a0dad"/><rect x="654.0" y="136.1" width="19.4" height="8.9" fill="#6a0dad"/><rect x="654.0" y="184.1" width="19.4" height="4.7" fill="#6a0dad"/><rect x="654.0" y="192.7" width="19.4" height="8.8" fill="#6a0dad"/><rect x="654.0" y="205.9" width="19.4" height="8.5" fill="#6a0dad"/><rect x="654.0" y="223.5" width="19.4" height="8.7" fill="#6a0dad"/><rect x="654.0" y="267.5" width="19.4" height="4.4" fill="#6a0dad"/><rect x="654.0" y="280.7" width="19.4" height="17.1" fill="#6a0dad"/><rect x="654.0" y="341.8" width="19.4" height="4.4" fill="#6a0dad"/><rect x="654.0" y="350.6" width="19.4" height="4.4" fill="#6a0dad"/><rect x="681.2" y="30.3" width="19.5" height="345.8" fill="#bebebe"/><rect x="681.2" y="30.3" width="19.5" height="5.4" fill="#ffe600"/><rect x="681.2" y="44.0" width="19.5" height="4.9" fill="#ffe600"/><rect x="681.2" y="53.0" width="19.5" height="4.2" fill="#ffe600"/><rect x="681.2" y="61.8" width="19.5" height="4.4" fill="#ffe600"/><rect x="681.2" y="70.4" width="19.5" height="4.4" fill="#ffe600"/><rect x="681.2" y="87.8" width="19.5" height="4.4" fill="#ffe600"/><rect x="681.2" y="105.4" width="19.5" height="4.4" fill="#ffe600"/><rect x="681.2" y="114.2" width="19.5" height="13.3" fill="#ffe600"/><rect x="681.2" y="144.7" width="19.5" height="4.7" fill="#ffe600"/><rect x="681.2" y="157.9" width="19.5" height="13.2" fill="#ffe600"/><rect x="681.2" y="175.5" width="19.5" height="4.5" fill="#ffe600"/><rect x="681.2" y="236.9" width="19.5" height="4.4" fill="#ffe600"/><rect x="681.2" y="258.7" width="19.5" height="4.4" fill="#ffe600"/><rect x="681.2" y="48.9" width="19.5" height="4.1" fill="#0a0a78"/><rect x="681.2" y="66.2" width="19.5" height="4.2" fill="#0a0a78"/><rect x="681.2" y="74.8" width="19.5" height="4.4" fill="#0a0a78"/><rect x="681.2" y="149.4" width="19.5" height="8.5" fill="#0a0a78"/><rect x="681.2" y="171.1" width="19.5" height="4.4" fill="#0a0a78"/><rect x="681.2" y="232.7" width="19.5" height="4.2" fill="#0a0a78"/><rect x="681.2" y="245.7" width="19.5" height="4.4" fill="#0a0a78"/><rect x="681.2" y="254.3" width="19.5" height="4.4" fill="#0a0a78"/><rect x="681.2" y="271.9" width="19.5" height="4.1" fill="#0a0a78"/><rect x="681.2" y="302.7" width="19.5" height="4.2" fill="#0a0a78"/><rect x="681.2" y="311.0" width="19.5" height="4.4" fill="#0a0a78"/><rect x="681.2" y="328.8" width="19.5" height="8.6" fill="#0a0a78"/><rect x="681.2" y="350.6" width="19.5" height="13.0" fill="#0a0a78"/>
<g fill="#aaa" font-size="3.5"><text x="663.5" y="381.6">· -</text><text x="690.5" y="381.6">· -</text></g>

<!-- legends -->
<text x="532.4" y="400.5" font-size="10.7" class="b" textLength="45.7" lengthAdjust="spacingAndGlyphs">Intensity</text>
<rect x="473.2" y="409.4" width="164.2" height="13" fill="url(#vir)"/>
<g stroke="#fff" stroke-width="0.9">
<path d="M474.7 409.4v2.7M474.7 419.7v2.7M515.1 409.4v2.7M515.1 419.7v2.7M555.4 409.4v2.7M555.4 419.7v2.7M595.6 409.4v2.7M595.6 419.7v2.7M635.8 409.4v2.7M635.8 419.7v2.7"/>
</g>
<g font-size="10.3" fill="#111">
<text x="472.6" y="432.5" textLength="8.6" lengthAdjust="spacingAndGlyphs">-1</text>
<text x="504.9" y="432.5" textLength="21.7" lengthAdjust="spacingAndGlyphs">−0.5</text>
<text x="552.1" y="432.5" textLength="6.6" lengthAdjust="spacingAndGlyphs">0</text>
<text x="587.2" y="432.5" textLength="15.2" lengthAdjust="spacingAndGlyphs">0.5</text>
<text x="632.2" y="432.5" textLength="6.6" lengthAdjust="spacingAndGlyphs">1</text>
</g>
<text x="657.2" y="400.7" font-size="10.8" class="b" textLength="30.2" lengthAdjust="spacingAndGlyphs">Class</text>
<rect x="657.5" y="406.1" width="12.1" height="10.6" fill="#6a0dad"/>
<rect x="657.5" y="418" width="12.1" height="11.6" fill="#ffe600"/>
<rect x="657.5" y="430.9" width="12.1" height="10.7" fill="#0a0a78"/>
<g font-size="10.8" fill="#111">
<text x="673.8" y="415.5">PPP</text><text x="673.8" y="427.4">FAD</text><text x="673.8" y="439">Pep</text>
</g>
</svg>
</body></html>
